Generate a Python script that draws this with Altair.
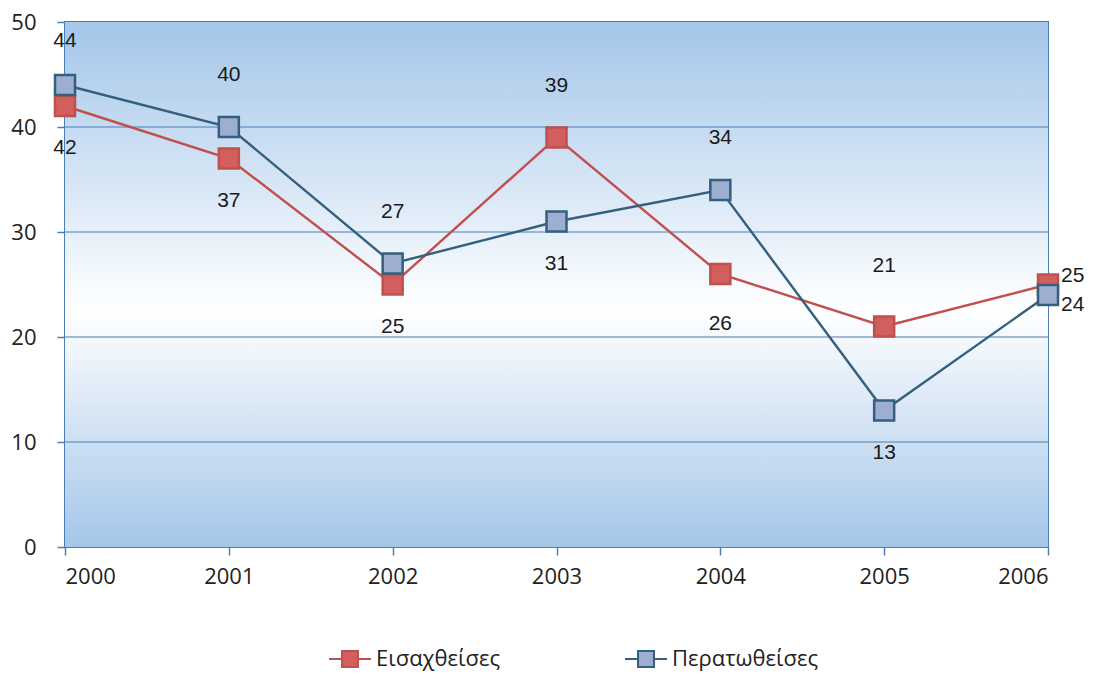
import altair as alt
import pandas as pd

years = [2000, 2001, 2002, 2003, 2004, 2005, 2006]
series_names = ["Εισαχθείσες", "Περατωθείσες"]
eisaxtheises = [42, 37, 25, 39, 26, 21, 25]
peratotheises = [44, 40, 27, 31, 34, 13, 24]
# label placement relative to the point
pos_eis = ["below", "below", "below", "above", "below_far", "above_far", "right_up"]
pos_per = ["above_near", "above", "above", "below", "above", "below", "right_down"]
grid_values = [10, 20, 30, 40]

rows = []
for y, v, p in zip(years, eisaxtheises, pos_eis):
    rows.append({"year": y, "series": series_names[0], "value": v, "pos": p})
for y, v, p in zip(years, peratotheises, pos_per):
    rows.append({"year": y, "series": series_names[1], "value": v, "pos": p})
df = pd.DataFrame(rows)
grid_df = pd.DataFrame({"value": grid_values})

W, H = 983, 525
line_colors = ["#c0504d", "#34607f"]
fill_colors = ["#d35e5e", "#9daed0"]

legend_symbol = "M-1,0H-0.38M0.38,0H1M-0.38,-0.38H0.38V0.38H-0.38Z"

x_scale = alt.Scale(domain=[2000, 2006], nice=False, zero=False)
y_scale = alt.Scale(domain=[0, 50], nice=False)

x_enc = alt.X("year:Q", scale=x_scale,
              axis=alt.Axis(values=years, format="d", title=None, grid=False,
                            tickSize=8, labelPadding=11, domain=False))
y_enc = alt.Y("value:Q", scale=y_scale,
              axis=alt.Axis(values=[0, 10, 20, 30, 40, 50], title=None, grid=False,
                            tickSize=8, labelPadding=21, domain=False))

legend = alt.Legend(title=None, orient="none", legendX=263, legendY=615,
                    direction="horizontal", symbolType=legend_symbol, symbolSize=1764,
                    symbolStrokeWidth=2, labelFontSize=22, labelFont="Open Sans",
                    labelColor="#222222", columnPadding=120, padding=0, labelOffset=4)

stroke_scale = alt.Scale(domain=series_names, range=line_colors)
fill_scale = alt.Scale(domain=series_names, range=fill_colors)

gradient = alt.LinearGradient(gradient="linear", x1=0, y1=0, x2=0, y2=1, stops=[
    alt.GradientStop(color="#a4c6e9", offset=0),
    alt.GradientStop(color="#ffffff", offset=0.55),
    alt.GradientStop(color="#a4c6e9", offset=1),
])

background = alt.Chart(alt.Data(values=[{}])).mark_rect(color=gradient).encode(
    x=alt.value(0), x2=alt.value(W), y=alt.value(0), y2=alt.value(H)
)

grid = alt.Chart(grid_df).mark_rule(color="#4a7eb5", strokeWidth=1).encode(
    y=alt.Y("value:Q", scale=y_scale)
)

base = alt.Chart(df)

lines = base.mark_line(strokeWidth=2.4).encode(
    x=x_enc, y=y_enc,
    stroke=alt.Stroke("series:N", scale=stroke_scale, legend=legend),
    detail="series:N",
)
points = base.mark_point(shape="square", size=400, filled=False, strokeWidth=2.5, opacity=1).encode(
    x=x_enc, y=y_enc,
    stroke=alt.Stroke("series:N", scale=stroke_scale, legend=legend),
    fill=alt.Fill("series:N", scale=fill_scale, legend=legend),
    order=alt.Order("series:N"),
)

def labels(pos, dx, dy, align="center"):
    return base.mark_text(font="Liberation Sans", fontSize=21, color="#1a1a1a",
                          dx=dx, dy=dy, align=align, baseline="middle").encode(
        x="year:Q", y="value:Q", text="value:Q"
    ).transform_filter(alt.datum.pos == pos)

chart = alt.layer(
    background, grid, lines, points,
    labels("above", 0, -52),
    labels("above_near", 0, -44),
    labels("above_far", 0, -61),
    labels("below", 0, 42),
    labels("below_far", 0, 50),
    labels("right_up", 13, -9, "left"),
    labels("right_down", 13, 10, "left"),
).properties(
    width=W, height=H,
    autosize=alt.AutoSizeParams(type="none"),
    padding={"left": 57, "top": 14, "right": 38, "bottom": 124},
).configure_view(
    stroke="#4a7eb5", strokeWidth=2,
).configure_axis(
    labelFont="Open Sans", labelFontSize=22, labelColor="#222222",
    tickColor="#4a7eb5", tickWidth=1.5,
)

chart.save("out.html", embed_options={"renderer": "svg", "actions": False})
